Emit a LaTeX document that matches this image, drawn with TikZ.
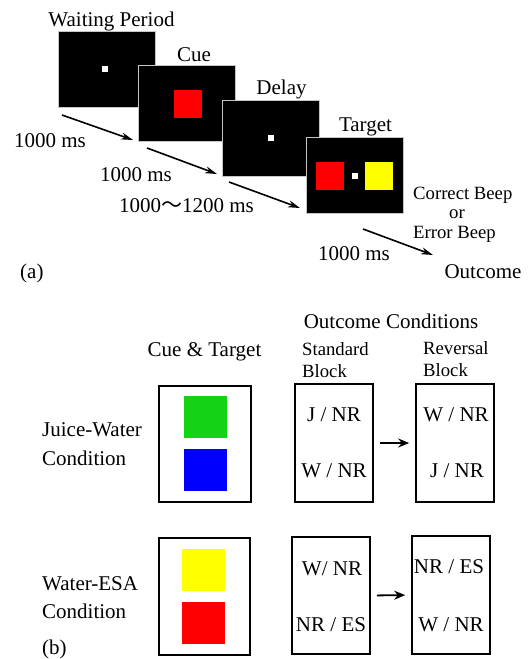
\documentclass[tikz,border=0pt]{standalone}
\usepackage{fontspec}
\setmainfont{Liberation Serif}
\newfontfamily\cjk{Noto Sans CJK JP}
\usetikzlibrary{arrows.meta}
\definecolor{cgreen}{RGB}{20,210,20}
\definecolor{cblue}{RGB}{0,0,255}
\definecolor{cred}{RGB}{255,0,0}
\definecolor{cyellow}{RGB}{255,255,0}
\tikzset{
  screen/.style={fill=black,draw=gray!45,line width=0.8pt,minimum width=97pt,minimum height=76pt,inner sep=0pt},
  dot/.style={fill=white,minimum size=6pt,inner sep=0pt},
  sq/.style={inner sep=0pt,minimum width=28pt,minimum height=28pt},
  bsq/.style={inner sep=0pt,minimum width=43pt,minimum height=42pt},
  frame/.style={draw=black,line width=1.6pt,inner sep=0pt},
  big/.style={font=\fontsize{21}{24}\selectfont,inner sep=0pt,anchor=base},
  small/.style={font=\fontsize{18.7}{22}\selectfont,inner sep=0pt,anchor=base},
  seqarrow/.style={line width=1.6pt,-{Stealth[length=12pt,width=7pt]}},
  barrow/.style={line width=1.8pt,-{Stealth[length=11pt,width=9pt]},shorten <=6pt,shorten >=6pt}
}
\begin{document}
\begin{tikzpicture}[x=1pt,y=-1pt]
\useasboundingbox (0,0) rectangle (528,659);
% ---------- (a) ----------
\node[screen] (wait) at (106.5,69) {};
\node[dot] (waitdot) at (105,69) {};
\node[screen] (cue) at (187,103.5) {};
\node[sq,fill=cred] (cuered) at (188,103.5) {};
\node[screen] (delay) at (270.5,138) {};
\node[dot] (delaydot) at (271,138) {};
\node[screen] (target) at (354.5,175) {};
\node[sq,fill=cred] (tred) at (330,176) {};
\node[sq,fill=cyellow] (tyellow) at (379,176) {};
\node[dot] (tdot) at (354.5,176) {};

\node[big] (lwait) at (111.5,26) {Waiting Period};
\node[big] (lcue) at (194,61.5) {Cue};
\node[big] (ldelay) at (281.5,94) {Delay};
\node[big] (ltarget) at (365.5,131) {Target};

\coordinate (a1s) at (62,115); \coordinate (a1e) at (133,140);
\coordinate (a2s) at (147,148); \coordinate (a2e) at (217,174);
\coordinate (a3s) at (229,182); \coordinate (a3e) at (300,208);
\coordinate (a4s) at (363,229); \coordinate (a4e) at (433,255);
\draw[seqarrow] (a1s) -- (a1e);
\draw[seqarrow] (a2s) -- (a2e);
\draw[seqarrow] (a3s) -- (a3e);
\draw[seqarrow] (a4s) -- (a4e);

\node[big] (t1) at (50,147) {1000 ms};
\node[big] (t2) at (136,181) {1000 ms};
\node[big] (t3) at (186.5,212) {1000{\cjk 〜}1200 ms};
\node[big] (t4) at (354,260) {1000 ms};

\node[small,anchor=base west] (correct) at (413,199) {Correct Beep};
\node[small] (orl) at (457,218) {or};
\node[small,anchor=base west] (error) at (413,238) {Error Beep};
\node[big] (outcome) at (483,278) {Outcome};
\node[big,anchor=base west] (la) at (20,278) {(a)};

% ---------- (b) ----------
\node[big] (oc) at (391,328) {Outcome Conditions};
\node[big] (ct) at (204.5,356) {Cue \& Target};
\node[small,anchor=base west] (std1) at (302,355) {Standard};
\node[small,anchor=base west] (std2) at (302,377) {Block};
\node[small,anchor=base west] (rev1) at (423,354) {Reversal};
\node[small,anchor=base west] (rev2) at (423,376) {Block};

\node[big,anchor=base west] (jw1) at (42,436) {Juice-Water};
\node[big,anchor=base west] (jw2) at (42,465) {Condition};
\node[big,anchor=base west] (we1) at (42,590) {Water-ESA};
\node[big,anchor=base west] (we2) at (42,618) {Condition};
\node[big,anchor=base west] (lb) at (42,654) {(b)};

% row 1
\node[frame,minimum width=92pt,minimum height=116pt] (ct1) at (205,444) {};
\node[bsq,fill=cgreen] (green) at (205.5,417) {};
\node[bsq,fill=cblue] (blue) at (205,469.5) {};
\node[frame,minimum width=78pt,minimum height=118pt] (s1) at (334,443) {};
\node[frame,minimum width=78pt,minimum height=118pt] (r1) at (455,443) {};
\draw[barrow] (s1.east) -- (r1.west);
\node[big] (s1a) at (334,421) {J / NR};
\node[big] (s1b) at (334,477) {W / NR};
\node[big] (r1a) at (456,421) {W / NR};
\node[big] (r1b) at (457,477) {J / NR};

% row 2
\node[frame,minimum width=91pt,minimum height=117pt] (ct2) at (204.5,596.5) {};
\node[bsq,fill=cyellow] (yellow) at (203.5,570) {};
\node[bsq,fill=cred] (red2) at (203.5,623) {};
\node[frame,minimum width=78pt,minimum height=117pt] (s2) at (331,595.5) {};
\node[frame,minimum width=78pt,minimum height=118pt] (r2) at (451,595) {};
\draw[barrow] (s2.east) -- (r2.west);
\node[big] (s2a) at (332,575) {W/ NR};
\node[big] (s2b) at (331,631) {NR / ES};
\node[big] (r2a) at (449,573) {NR / ES};
\node[big] (r2b) at (451,631) {W / NR};
\end{tikzpicture}
\end{document}
